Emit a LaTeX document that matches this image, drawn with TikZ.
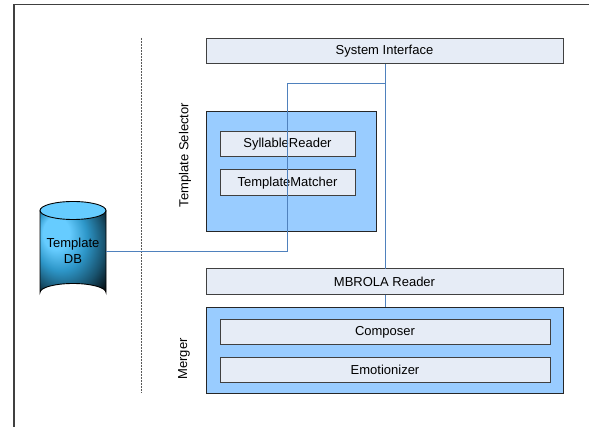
\documentclass[tikz,border=0pt]{standalone}
\usepackage{fontspec}
\setmainfont{Liberation Sans}
\definecolor{panelfill}{RGB}{230,236,246}
\definecolor{groupfill}{RGB}{153,204,255}
\definecolor{edgegray}{RGB}{64,64,64}
\definecolor{linkblue}{RGB}{79,129,189}
\definecolor{dbcyan}{RGB}{102,204,255}
\definecolor{dbdeep}{RGB}{45,150,200}
% cylinder body: bright cyan glow on the upper left, black towards the lower right
\pgfdeclareradialshading{dbglow}{\pgfpoint{-16bp}{14bp}}{
  color(0bp)=(dbcyan); color(10bp)=(dbcyan); color(20bp)=(dbdeep);
  color(30bp)=(dbdeep!55!black); color(40bp)=(black); color(50bp)=(black)}
\begin{document}
\begin{tikzpicture}[x=1pt,y=-1pt,
  every node/.style={font=\fontsize{13}{15}\selectfont},
  panel/.style={draw=edgegray,line width=1pt,fill=panelfill,inner sep=0pt},
  group/.style={draw=black!85,line width=0.9pt,fill=groupfill,inner sep=0pt},
  link/.style={draw=linkblue,line width=0.8pt},
  sidelabel/.style={rotate=90,anchor=center}]
\useasboundingbox (0,0) rectangle (589,427);
% frame edges
\draw[edgegray,line width=1.3pt] (14,427) -- (14,4.5) -- (589,4.5);
% dashed divider
\draw[black!65,dash pattern=on 2pt off 1pt,line width=1pt] (141,38) -- (141,393);
% template selector group
\draw[group] (206,111) rectangle (376,231);
\node[sidelabel] (tsel) at (185,155) {Template Selector};
\draw[panel] (220,132) rectangle (355,157);
\node (syl) at (287.5,144.5) {SyllableReader};
\draw[panel] (220,170) rectangle (355,196);
\node (tmat) at (287.5,183) {TemplateMatcher};
% top interface
\draw[panel] (206,38.5) rectangle (563,64);
\node (sys) at (384.5,51) {System Interface};
% MBROLA reader
\draw[panel] (206,269) rectangle (563,295);
\node (mbr) at (384.5,282) {MBROLA Reader};
% merger group
\draw[group] (206,307) rectangle (563,393);
\node[sidelabel] (merg) at (184,359) {Merger};
\draw[panel] (220,319.5) rectangle (550,345);
\node (comp) at (385,332) {Composer};
\draw[panel] (220,357.5) rectangle (550,383);
\node (emo) at (385,370) {Emotionizer};
% database cylinder
\shade[shading=dbglow]
  (40,210.5) -- (40,292.5) arc[start angle=180,end angle=360,x radius=33,y radius=9]
  -- (106,210.5) arc[start angle=0,end angle=180,x radius=33,y radius=9];
\fill[dbcyan] (73,210.5) ellipse[x radius=33,y radius=9];
\draw[black,line width=0.9pt] (40,210.5) -- (40,292.5) arc[start angle=180,end angle=360,x radius=33,y radius=9]
  -- (106,210.5);
\draw[black,line width=0.9pt] (73,210.5) ellipse[x radius=33,y radius=9];
\node[align=center,font=\fontsize{13}{16}\selectfont] (db) at (73,251) {Template\\DB};
% connectors
\coordinate (dbout) at (106,251);
\coordinate (bend) at (287.5,251);
\coordinate (joint) at (287.5,83);
\coordinate (trunk) at (385.5,83);
\draw[link] (dbout) -- (bend) -- (joint) -- (trunk);
\draw[link] (385.5,64) -- (385.5,269);
\draw[link] (385.5,295) -- (385.5,307);
\end{tikzpicture}
\end{document}
